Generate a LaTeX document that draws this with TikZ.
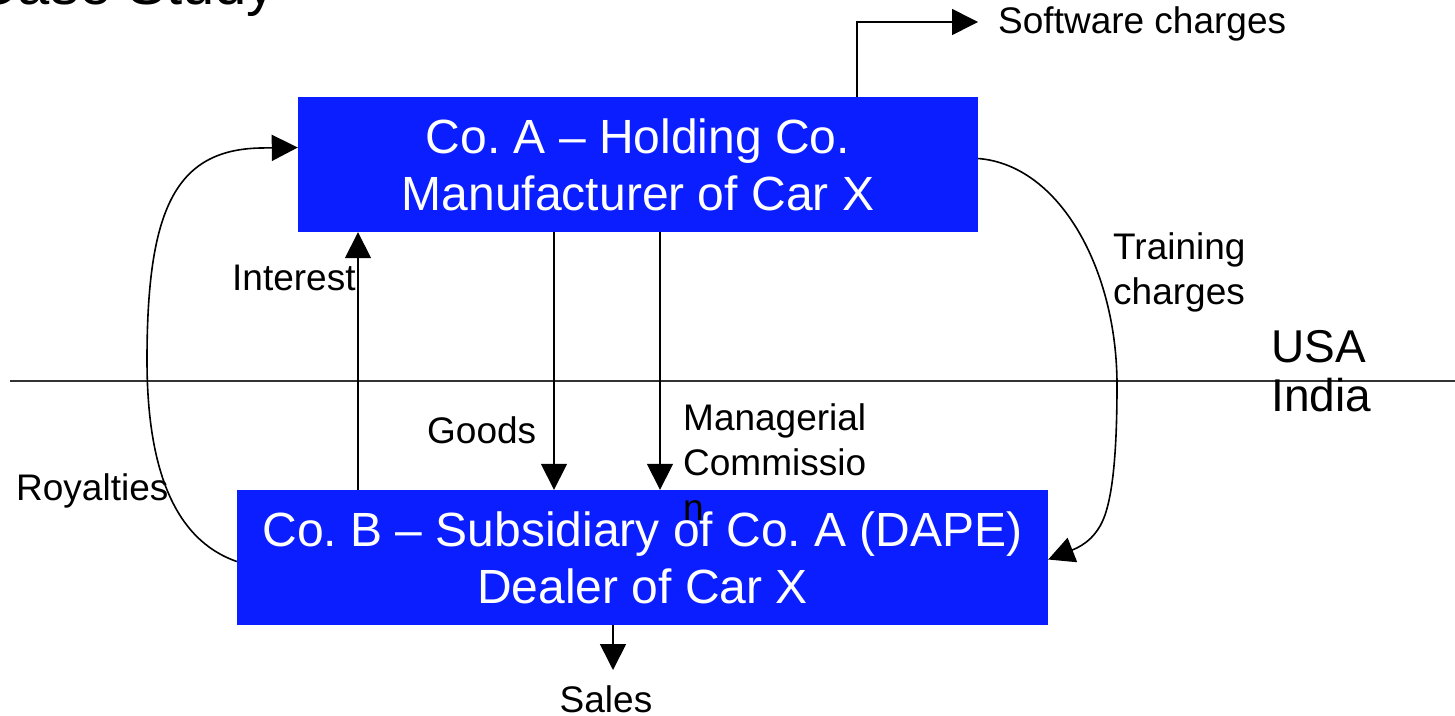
\documentclass[tikz,border=0pt]{standalone}
\usepackage{fontspec}
\setmainfont{Liberation Sans}
\usetikzlibrary{arrows.meta}
\definecolor{boxblue}{RGB}{10,30,255}
\frenchspacing
\tikzset{
  box/.style={draw=none,fill=boxblue,text=white,align=center,inner sep=0pt,
    minimum height=135pt,font=\fontsize{48}{57}\selectfont},
  lbl/.style={inner sep=0pt,font=\fontsize{37}{45}\selectfont,align=left},
  big/.style={inner sep=0pt,font=\fontsize{46}{55}\selectfont},
  conn/.style={line width=1.6pt,draw=black},
  arr/.style={conn,-{Triangle[length=26pt,width=26pt]}}
}
\begin{document}
\begin{tikzpicture}[x=1pt,y=-1pt]
\useasboundingbox (0,0) rectangle (1455,715);
\clip (0,0) rectangle (1455,715);
\node[inner sep=0pt,anchor=base east,font=\fontsize{58}{66}\selectfont] (title) at (276,4) {Case Study};
% boxes
\node[box,minimum width=680pt] (a) at (638,164.5) {Co. A -- Holding Co.\\Manufacturer of Car X};
\node[box,minimum width=811pt] (b) at (642.5,557.5) {Co. B -- Subsidiary of Co. A (DAPE)\\Dealer of Car X};
% border line
\coordinate (bl) at (10,381);
\coordinate (br) at (1455,381);
\draw[line width=1.6pt,black!80] (bl) -- (br);
\node[big,anchor=west] (usa) at (1271,347) {USA};
\node[big,anchor=west] (india) at (1271,395) {India};
% labels
\node[lbl,anchor=west] (sw) at (998,24) {Software charges};
\node[lbl,anchor=west] (int) at (232,278) {Interest};
\node[lbl,anchor=west] (goods) at (427,430) {Goods};
\node[lbl,anchor=north west] (mgr) at (683,403) {Managerial\\Commissio\\n};
\node[lbl,anchor=west] (roy) at (16,491) {Royalties};
\node[lbl,anchor=north west] (tr) at (1113,232) {Training\\charges};
\node[lbl,anchor=north] (sales) at (606,685) {Sales};
% x positions
\coordinate (xsw) at (857,0);
\coordinate (xint) at (358,0);
\coordinate (xgoods) at (554,0);
\coordinate (xmgr) at (660,0);
\coordinate (xsales) at (613,0);
% connectors
\draw[arr] (a.north -| xsw) |- ([xshift=-20pt]sw.west |- 0,22);
\draw[arr] (b.north -| xint) -- (a.south -| xint);
\draw[arr] (a.south -| xgoods) -- (b.north -| xgoods);
\draw[arr] (a.south -| xmgr) -- (b.north -| xmgr);
\draw[arr] (b.south -| xsales) -- ([yshift=15pt]sales.north -| xsales);
\draw[arr] ([yshift=-4pt]b.west) .. controls (175,540) and (147,470) .. (147,360)
  .. controls (147,210) and (175,150) .. (260,148) -- ([yshift=17pt]a.west);
\draw[arr] ([yshift=6pt]a.east) .. controls (1060,165) and (1117,270) .. (1117,385)
  .. controls (1117,470) and (1110,500) .. (1105,515)
  .. controls (1098,535) and (1085,545) .. ([yshift=-2pt]b.east);
\end{tikzpicture}
\end{document}
